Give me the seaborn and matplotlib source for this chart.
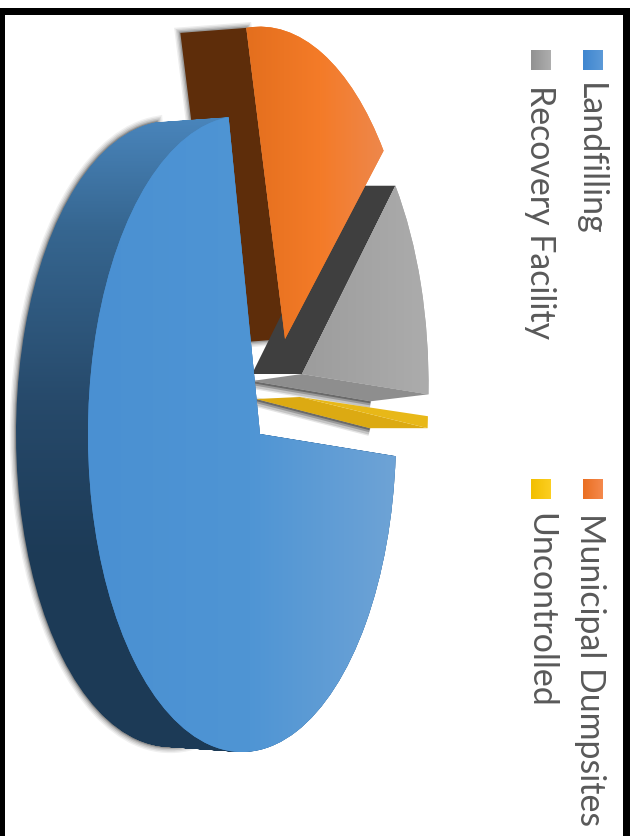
import numpy as np
import matplotlib
matplotlib.use("Agg")
import matplotlib.pyplot as plt
import seaborn as sns
from matplotlib.colors import to_rgb
from matplotlib.patches import PathPatch, Rectangle
from matplotlib.path import Path

# ---- data ----
labels = ["Landfilling", "Municipal Dumpsites", "Recovery Facility", "Uncontrolled"]
values = [72.5, 15.8, 11.1, 0.6]

# ---- styling ----
W, H = 635, 837
CX, CY, RX, RY = 241, 435, 154, 318
sns.set_theme(style="white")
plt.rcParams["font.family"] = ["Lato", "DejaVu Sans"]
TEXT = "#595959"


def U(px):
    return (px - CX) / RX


def V(py):
    return (CY - py) / RY


def D(dx, dy):
    return np.array([dx / RX, -dy / RY])


fig = plt.figure(figsize=(W / 100, H / 100), dpi=100, facecolor="white")
ax = fig.add_axes([0, 0, 1, 1])
wedges, _ = ax.pie(values, startangle=-4, counterclock=False, radius=1,
                   colors=["#4a90d2", "#f47b28", "#a4a4a4", "#e8b818"], frame=False,
                   wedgeprops={"linewidth": 0, "edgecolor": "none"})
ax.set_aspect("auto")
ax.set_xlim(U(0), U(W))
ax.set_ylim(V(H), V(0))
ax.set_autoscale_on(False)
ax.axis("off")


def place(w, ellipse_px, apex_px, radius=1.0):
    """Move a slice to its own perspective ellipse and pull in its apex."""
    c = (U(ellipse_px[0]), V(ellipse_px[1]))
    w.set_center(c)
    w.set_radius(radius)
    p = w.get_path()
    v = p.vertices.copy()
    apex = np.array([U(apex_px[0]), V(apex_px[1])])
    v[np.all(np.isclose(v, c), axis=1)] = apex
    p.vertices = v
    t1, t2 = np.radians([w.theta1, w.theta2])
    e1 = np.array([c[0] + radius * np.cos(t1), c[1] + radius * np.sin(t1)])
    e2 = np.array([c[0] + radius * np.cos(t2), c[1] + radius * np.sin(t2)])
    return apex, e1, e2, p


def gradient(path, stops, axis, z):
    pos = np.array([s[0] for s in stops], float)
    col = np.array([to_rgb(s[1]) for s in stops])
    n = W if axis == "x" else H
    arr = np.stack([np.interp(np.arange(n), pos, col[:, i]) for i in range(3)], axis=-1)
    arr = arr[None, :, :] if axis == "x" else arr[:, None, :]
    im = ax.imshow(arr, extent=(0, 1, 0, 1), transform=ax.transAxes, aspect="auto",
                   interpolation="nearest", zorder=z)
    im.set_clip_path(path, ax.transData)
    return im


def quad(a, b, off_a, off_b=None):
    off_b = off_a if off_b is None else off_b
    return np.array([a, b, b + off_b, a + off_a])


blue, orange, gray, yellow = wedges
b_apex, b_e1, b_e2, b_path = place(blue, (242, 435), (260, 435))
o_apex, o_e1, o_e2, o_path = place(orange, (260, 352), (285, 340), 1.02)
g_apex, g_e1, g_e2, g_path = place(gray, (273, 385), (302, 375), 1.01)
y_apex, y_e1, y_e2, y_path = place(yellow, (274, 407), (300, 398))

# ---- blue rim: the slice swept back, with a soft shadow ----
layers = []
for t in np.linspace(0, 1, 60):
    v = b_path.vertices * [1, 1 - 0.016 * t] + D(-72 * t, 0)
    layers.append(Path(v, b_path.codes))
rim = Path.make_compound_path(*layers)
for lw, a in [(9, .06), (7, .08), (5, .10), (3, .14), (1.5, .2)]:
    ax.add_patch(PathPatch(layers[-1], fc="none", ec="black", lw=lw, alpha=a, zorder=1))
gradient(rim, [(115, "#4a86bd"), (230, "#366690"), (400, "#274a6b"), (560, "#1c3a56"), (760, "#1d3b57")], "y", 10)
blue.set_zorder(10.5)
gradient(b_path, [(88, "#4a90d2"), (250, "#4f95d4"), (395, "#6ea3d6")], "x", 11)

# ---- orange: brown cut face, then top ----
o_top = o_e2 if o_e2[1] > o_e1[1] else o_e1
brown = quad(o_apex, o_top, D(-66, 5))
for lw, a in [(8, .07), (6, .09), (4, .12), (2, .18)]:
    ax.add_patch(plt.Polygon(brown, fc="none", ec="black", lw=lw, alpha=a, zorder=2))
ax.fill(brown[:, 0], brown[:, 1], color="#5e2d0a", lw=0, zorder=3)
orange.set_zorder(6)
gradient(o_path, [(248, "#e46f1e"), (320, "#f47b28"), (382, "#ee874b")], "x", 6.5)

# ---- gray: dark upper face, pale lower face, top ----
g_up, g_low = (g_e1, g_e2) if g_e1[1] > g_e2[1] else (g_e2, g_e1)
dark = quad(g_apex, g_up, D(-50, 0))
ax.fill(dark[:, 0], dark[:, 1], color="#3f3f3f", lw=0, zorder=3.2)
band = quad(g_apex, g_low, D(-50, 7), D(-58, 7))
for k, lw, a in [(3, 7, .10), (3, 5, .14), (2, 3, .22), (1, 1.5, .3)]:
    ax.plot(band[2:, 0] + 0, band[2:, 1] + D(0, k)[1], color="black", lw=lw, alpha=a,
            zorder=3.5, solid_capstyle="butt")
ax.fill(band[:, 0], band[:, 1], color="#8e8e8e", lw=0, zorder=4)
gray.set_zorder(5)
gradient(g_path, [(300, "#9c9c9c"), (428, "#acacac")], "x", 5.5)

# ---- yellow sliver ----
y_low = y_e1 if y_e1[1] < y_e2[1] else y_e2
y_side = quad(y_apex, y_low, D(-44, 2), D(-58, 0))
for k, lw, a in [(3, 7, .10), (3, 5, .14), (2, 3, .22), (1, 1.5, .3)]:
    ax.plot(y_side[2:, 0], y_side[2:, 1] + D(0, k)[1], color="black", lw=lw, alpha=a,
            zorder=6.8, solid_capstyle="butt")
ax.fill(y_side[:, 0], y_side[:, 1], color="#dcaa12", lw=0, zorder=7)
yellow.set_zorder(8)

# ---- legend (rotated a quarter turn) ----
legend_rows = [
    (580, 83, 583, 51, [(583, "#3f87d0"), (603, "#5d9ad8")]),
    (580, 513, 583, 480, [(583, "#ea6f22"), (603, "#f58a4e")]),
    (530, 85, 531, 51, [(531, "#929292"), (552, "#b0b0b0")]),
    (530, 513, 531, 480, [(531, "#f2bf00"), (552, "#fdd024")]),
]
for label, (tx, ty, sx, sy, stops) in zip(labels, legend_rows):
    r = Path(np.array([[U(sx), V(sy)], [U(sx + 20), V(sy)], [U(sx + 20), V(sy + 20)],
                       [U(sx), V(sy + 20)], [U(sx), V(sy)]]), closed=True)
    gradient(r, stops, "x", 12)
    ax.text(U(tx), V(ty), label, rotation=-90, rotation_mode="anchor", ha="left",
            va="baseline", color=TEXT, fontsize=24.4, zorder=12)

# ---- black frame of the source picture ----
for x0, y0, x1, y1 in [(0, 9, 630, 16), (0, 9, 5, H), (623, 9, 630, H)]:
    ax.add_patch(Rectangle((x0 / W, 1 - y1 / H), (x1 - x0) / W, (y1 - y0) / H,
                           transform=ax.transAxes, color="black", lw=0, zorder=20))

fig.savefig("out.png", dpi=100)
